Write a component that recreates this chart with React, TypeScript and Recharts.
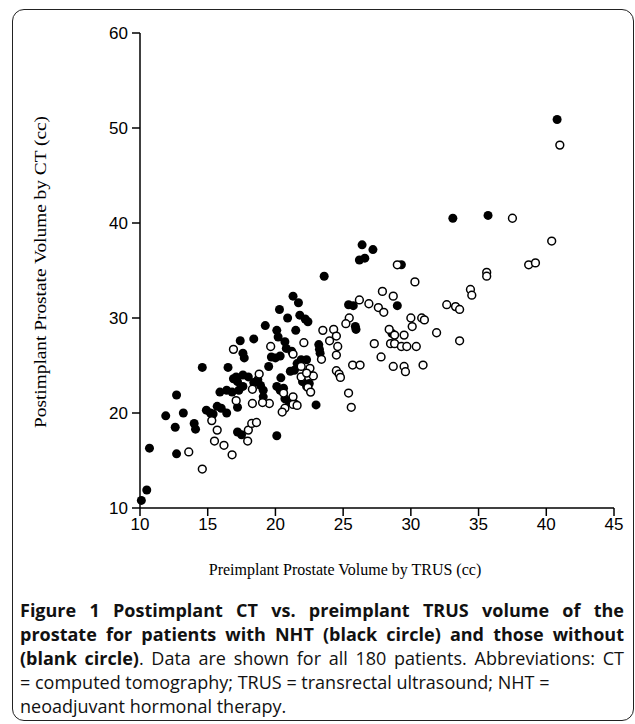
import { ScatterChart, Scatter, XAxis, YAxis, Label } from 'recharts'

// patients with neoadjuvant hormonal therapy (black circles): [TRUS, CT]
const nhtPoints: [number, number][] = [
  [10.1, 10.8], [10.5, 11.9], [10.7, 16.3], [11.9, 19.7], [12.7, 21.9], [12.6, 18.5],
  [12.7, 15.7], [13.2, 20.0], [14.0, 18.9], [14.1, 18.3], [14.6, 24.8], [14.9, 20.3],
  [15.2, 20.0], [15.4, 19.9], [15.7, 20.7], [16.0, 20.5], [16.4, 20.0], [15.9, 22.2],
  [16.4, 22.4], [16.8, 22.2], [16.5, 24.8], [17.4, 27.6], [17.6, 26.3], [17.7, 25.8],
  [18.4, 27.8], [17.1, 23.8], [17.2, 23.3], [17.6, 24.0], [17.6, 22.8], [17.2, 20.6],
  [17.2, 18.0], [17.5, 17.7], [18.0, 23.8], [18.4, 23.2], [18.9, 22.9], [19.1, 22.4],
  [19.1, 21.7], [18.7, 23.5], [19.25, 29.2], [19.5, 24.9], [19.7, 25.9], [20.1, 28.7],
  [20.2, 28.0], [20.3, 30.9], [20.1, 17.6], [21.3, 32.3], [21.7, 31.6], [20.9, 30.0],
  [21.8, 30.3], [22.2, 29.9], [22.4, 29.6], [21.5, 28.7], [20.7, 27.5], [20.8, 26.8],
  [21.2, 26.5], [20.0, 25.8], [20.35, 26.0], [21.6, 25.2], [21.9, 25.6], [22.3, 25.6],
  [21.1, 24.4], [21.4, 24.5], [20.4, 23.7], [20.1, 22.8], [20.35, 22.4], [20.6, 22.6],
  [22.0, 23.3], [22.3, 22.8], [22.5, 23.1], [20.7, 21.5], [21.0, 21.2], [21.4, 21.0],
  [23.0, 20.85], [23.2, 27.2], [23.25, 26.7], [23.3, 26.3], [23.6, 34.4], [25.4, 31.4],
  [25.75, 31.3], [25.9, 29.1], [25.95, 28.8], [29.0, 31.3], [28.6, 28.4], [26.4, 37.7],
  [27.2, 37.2], [26.2, 36.1], [26.6, 36.3], [29.3, 35.6], [33.1, 40.5], [35.7, 40.8],
  [40.8, 50.9], [16.9, 23.6], [17.3, 22.4],
]

// patients without NHT (blank circles)
const noNhtPoints: [number, number][] = [
  [13.6, 15.9], [14.6, 14.1], [15.3, 19.2], [15.7, 18.2], [15.5, 17.05], [16.2, 16.6],
  [16.8, 15.6], [16.9, 26.7], [17.1, 21.3], [17.95, 17.05], [18.0, 18.2], [18.25, 18.9],
  [18.6, 19.0], [18.3, 21.0], [18.8, 24.1], [18.3, 22.5], [19.65, 27.0], [19.55, 21.0],
  [19.05, 21.1], [22.1, 27.4], [21.3, 26.2], [21.9, 24.9], [22.55, 24.7], [22.8, 23.9],
  [21.9, 23.8], [22.4, 22.7], [22.6, 22.2], [20.6, 22.1], [20.7, 20.5], [20.5, 20.1],
  [21.3, 21.7], [21.3, 20.9], [21.6, 20.8], [23.5, 28.7], [23.4, 25.65], [24.3, 28.8],
  [24.5, 28.1], [24.0, 27.6], [24.6, 27.0], [24.5, 26.1], [24.5, 24.45], [24.7, 24.1],
  [24.8, 23.75], [25.4, 22.1], [25.6, 20.6], [25.45, 30.0], [25.2, 29.4], [26.2, 31.9],
  [26.9, 31.5], [27.6, 31.1], [28.0, 30.6], [27.9, 32.8], [28.7, 32.3], [27.3, 27.3],
  [27.8, 25.9], [25.7, 25.05], [26.25, 25.05], [28.4, 28.8], [28.8, 28.2], [28.5, 27.3],
  [28.8, 27.3], [29.3, 27.0], [29.7, 27.0], [30.4, 27.0], [30.0, 30.0], [30.8, 30.0],
  [31.0, 29.8], [30.1, 29.1], [29.5, 28.2], [28.7, 24.9], [29.5, 24.9], [29.6, 24.35],
  [30.9, 25.05], [31.9, 28.45], [29.0, 35.6], [30.3, 33.8], [32.65, 31.4], [33.3, 31.2],
  [33.6, 30.9], [33.6, 27.6], [34.4, 33.0], [34.5, 32.4], [35.6, 34.8], [35.6, 34.4],
  [37.5, 40.5], [38.7, 35.6], [39.2, 35.8], [40.4, 38.1], [41.0, 48.2], [22.3, 24.2],
]

const xTicks = [10, 15, 20, 25, 30, 35, 40, 45]
const yTicks = [10, 20, 30, 40, 50, 60]

const toRows = (pts: [number, number][]) => pts.map(([x, y]) => ({ x, y }))

const tickFont = '"Liberation Sans Narrow", "Arial Narrow", "Liberation Sans", sans-serif'
const titleFont = '"Liberation Serif", "DejaVu Serif", serif'

const FilledDot = (props: any) => <circle cx={props.cx} cy={props.cy} r={4.5} fill="#000" />
const OpenDot = (props: any) => (
  <circle cx={props.cx} cy={props.cy} r={3.9} fill="#fff" stroke="#000" strokeWidth={1.5} />
)

const axisStroke = { stroke: '#000', strokeWidth: 1.5 }

export default function App() {
  return (
    <div style={{ position: 'absolute', left: 0, top: 0, width: 635, height: 724, background: '#fff' }}>
      <div
        style={{
          position: 'absolute',
          left: 12,
          top: 9,
          width: 620,
          height: 710,
          border: '1.5px solid #222',
          borderRadius: 12,
        }}
      />
      <div style={{ position: 'absolute', left: 0, top: 0 }}>
        <ScatterChart width={635} height={600} margin={{ top: 33, right: 21, left: 0, bottom: 0 }}>
          <XAxis
            type="number"
            dataKey="x"
            domain={[10, 45]}
            ticks={xTicks}
            interval={0}
            height={92}
            tickSize={8}
            tickMargin={2}
            axisLine={axisStroke}
            tickLine={axisStroke}
            tick={{ fill: '#000', fontSize: 17, fontFamily: tickFont }}
          >
            <Label
              content={() => (
                <text x={345} y={569} textAnchor="middle" dominantBaseline="central"
                  fontFamily={titleFont} fontSize={16} fill="#000">
                  Preimplant Prostate Volume by TRUS (cc)
                </text>
              )}
            />
          </XAxis>
          <YAxis
            type="number"
            dataKey="y"
            domain={[10, 60]}
            ticks={yTicks}
            interval={0}
            width={140}
            tickSize={8}
            tickMargin={4}
            axisLine={axisStroke}
            tickLine={axisStroke}
            tick={{ fill: '#000', fontSize: 17, fontFamily: tickFont }}
          >
            <Label
              content={() => (
                <text x={40} y={272} textAnchor="middle" dominantBaseline="central"
                  transform="rotate(-90 40 272)" fontFamily={titleFont} fontSize={16.5}
                  textLength={312} lengthAdjust="spacingAndGlyphs" fill="#000">
                  Postimplant Prostate Volume by CT (cc)
                </text>
              )}
            />
          </YAxis>
          <Scatter data={toRows(nhtPoints)} shape={FilledDot} isAnimationActive={false} />
          <Scatter data={toRows(noNhtPoints)} shape={OpenDot} isAnimationActive={false} />
        </ScatterChart>
      </div>
      <div
        style={{
          position: 'absolute',
          left: 20,
          top: 598,
          width: 604,
          fontFamily: '"Open Sans", "Noto Sans", sans-serif',
          fontSize: 18,
          lineHeight: '24px',
          color: '#111',
        }}
      >
        <div style={{ textAlign: 'justify', textAlignLast: 'justify', whiteSpace: 'nowrap', fontWeight: 700 }}>
          Figure 1 Postimplant CT vs. preimplant TRUS volume of the
        </div>
        <div style={{ textAlign: 'justify', textAlignLast: 'justify', whiteSpace: 'nowrap', fontWeight: 700 }}>
          prostate for patients with NHT (black circle) and those without
        </div>
        <div style={{ textAlign: 'justify', textAlignLast: 'justify', whiteSpace: 'nowrap' }}>
          <b>(blank circle)</b>. Data are shown for all 180 patients. Abbreviations: CT
        </div>
        <div style={{ whiteSpace: 'nowrap' }}>= computed tomography; TRUS = transrectal ultrasound; NHT =</div>
        <div style={{ whiteSpace: 'nowrap' }}>neoadjuvant hormonal therapy.</div>
      </div>
    </div>
  )
}
